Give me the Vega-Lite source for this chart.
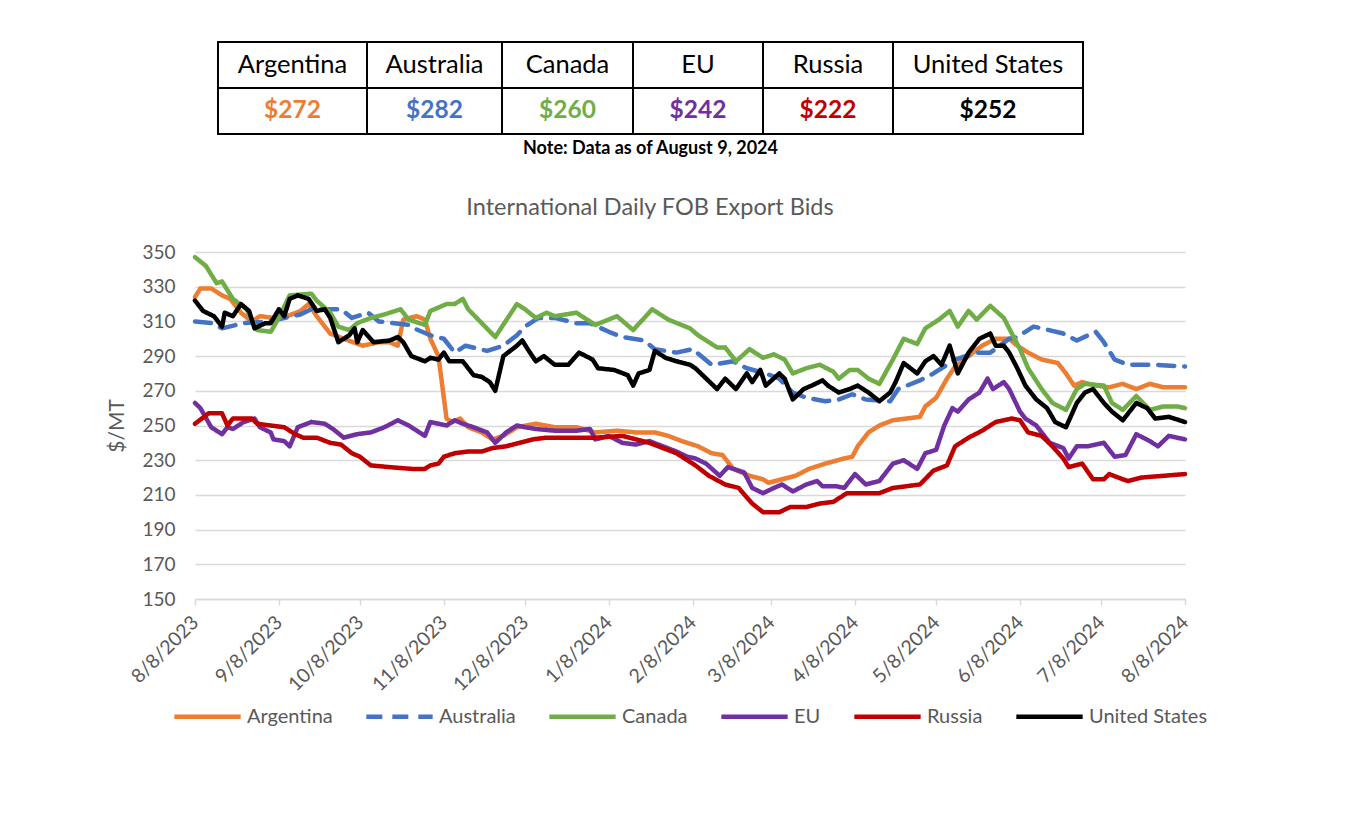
{
"$schema": "https://vega.github.io/schema/vega-lite/v6.json",
"background": "white",
"padding": {"left": 106, "top": 41, "right": 10, "bottom": 10},
"datasets": {
"table": [
{"country":"Argentina","row":"name","text":"Argentina"},{"country":"Argentina","row":"price","text":"$272"},
{"country":"Australia","row":"name","text":"Australia"},{"country":"Australia","row":"price","text":"$282"},
{"country":"Canada","row":"name","text":"Canada"},{"country":"Canada","row":"price","text":"$260"},
{"country":"EU","row":"name","text":"EU"},{"country":"EU","row":"price","text":"$242"},
{"country":"Russia","row":"name","text":"Russia"},{"country":"Russia","row":"price","text":"$222"},
{"country":"United States","row":"name","text":"United States"},{"country":"United States","row":"price","text":"$252"}
],
"lines": [
{"c":"Argentina","d":"2023-08-08","v":324},{"c":"Argentina","d":"2023-08-10","v":329},{"c":"Argentina","d":"2023-08-14","v":329},{"c":"Argentina","d":"2023-08-18","v":325},{"c":"Argentina","d":"2023-08-21","v":323},{"c":"Argentina","d":"2023-08-25","v":315},{"c":"Argentina","d":"2023-08-29","v":310},{"c":"Argentina","d":"2023-09-01","v":313},{"c":"Argentina","d":"2023-09-06","v":312},{"c":"Argentina","d":"2023-09-11","v":313},{"c":"Argentina","d":"2023-09-16","v":316},{"c":"Argentina","d":"2023-09-19","v":320},{"c":"Argentina","d":"2023-09-22","v":313},{"c":"Argentina","d":"2023-09-27","v":303},{"c":"Argentina","d":"2023-10-02","v":300},{"c":"Argentina","d":"2023-10-09","v":296},{"c":"Argentina","d":"2023-10-15","v":298},{"c":"Argentina","d":"2023-10-19","v":298},{"c":"Argentina","d":"2023-10-22","v":296},{"c":"Argentina","d":"2023-10-24","v":311},{"c":"Argentina","d":"2023-10-29","v":313},{"c":"Argentina","d":"2023-11-01","v":311},{"c":"Argentina","d":"2023-11-03","v":300},{"c":"Argentina","d":"2023-11-06","v":290},{"c":"Argentina","d":"2023-11-09","v":254},{"c":"Argentina","d":"2023-11-11","v":252},{"c":"Argentina","d":"2023-11-14","v":254},{"c":"Argentina","d":"2023-11-17","v":249},{"c":"Argentina","d":"2023-11-22","v":246},{"c":"Argentina","d":"2023-11-26","v":242},{"c":"Argentina","d":"2023-11-30","v":244},{"c":"Argentina","d":"2023-12-05","v":249},{"c":"Argentina","d":"2023-12-12","v":251},{"c":"Argentina","d":"2023-12-19","v":249},{"c":"Argentina","d":"2023-12-27","v":249},{"c":"Argentina","d":"2024-01-03","v":246},{"c":"Argentina","d":"2024-01-11","v":247},{"c":"Argentina","d":"2024-01-18","v":246},{"c":"Argentina","d":"2024-01-25","v":246},{"c":"Argentina","d":"2024-01-30","v":244},{"c":"Argentina","d":"2024-02-04","v":241},{"c":"Argentina","d":"2024-02-10","v":238},{"c":"Argentina","d":"2024-02-15","v":234},{"c":"Argentina","d":"2024-02-19","v":233},{"c":"Argentina","d":"2024-02-23","v":225},{"c":"Argentina","d":"2024-02-29","v":221},{"c":"Argentina","d":"2024-03-05","v":219},{"c":"Argentina","d":"2024-03-07","v":217},{"c":"Argentina","d":"2024-03-12","v":219},{"c":"Argentina","d":"2024-03-17","v":221},{"c":"Argentina","d":"2024-03-22","v":225},{"c":"Argentina","d":"2024-03-28","v":228},{"c":"Argentina","d":"2024-04-04","v":231},{"c":"Argentina","d":"2024-04-07","v":232},{"c":"Argentina","d":"2024-04-09","v":238},{"c":"Argentina","d":"2024-04-13","v":246},{"c":"Argentina","d":"2024-04-17","v":250},{"c":"Argentina","d":"2024-04-22","v":253},{"c":"Argentina","d":"2024-04-27","v":254},{"c":"Argentina","d":"2024-05-02","v":255},{"c":"Argentina","d":"2024-05-04","v":261},{"c":"Argentina","d":"2024-05-08","v":266},{"c":"Argentina","d":"2024-05-12","v":277},{"c":"Argentina","d":"2024-05-15","v":284},{"c":"Argentina","d":"2024-05-20","v":290},{"c":"Argentina","d":"2024-05-25","v":296},{"c":"Argentina","d":"2024-05-30","v":300},{"c":"Argentina","d":"2024-06-04","v":300},{"c":"Argentina","d":"2024-06-07","v":296},{"c":"Argentina","d":"2024-06-11","v":292},{"c":"Argentina","d":"2024-06-16","v":288},{"c":"Argentina","d":"2024-06-22","v":286},{"c":"Argentina","d":"2024-06-25","v":280},{"c":"Argentina","d":"2024-06-28","v":273},{"c":"Argentina","d":"2024-07-01","v":275},{"c":"Argentina","d":"2024-07-06","v":273},{"c":"Argentina","d":"2024-07-11","v":272},{"c":"Argentina","d":"2024-07-16","v":274},{"c":"Argentina","d":"2024-07-21","v":271},{"c":"Argentina","d":"2024-07-26","v":274},{"c":"Argentina","d":"2024-07-31","v":272},{"c":"Argentina","d":"2024-08-08","v":272},
{"c":"Australia","d":"2023-08-08","v":310},{"c":"Australia","d":"2023-08-14","v":309},{"c":"Australia","d":"2023-08-18","v":306},{"c":"Australia","d":"2023-08-26","v":309},{"c":"Australia","d":"2023-09-04","v":310},{"c":"Australia","d":"2023-09-10","v":312},{"c":"Australia","d":"2023-09-16","v":314},{"c":"Australia","d":"2023-09-20","v":317},{"c":"Australia","d":"2023-10-01","v":317},{"c":"Australia","d":"2023-10-05","v":312},{"c":"Australia","d":"2023-10-11","v":315},{"c":"Australia","d":"2023-10-15","v":310},{"c":"Australia","d":"2023-10-26","v":308},{"c":"Australia","d":"2023-10-28","v":306},{"c":"Australia","d":"2023-11-03","v":302},{"c":"Australia","d":"2023-11-08","v":300},{"c":"Australia","d":"2023-11-12","v":292},{"c":"Australia","d":"2023-11-16","v":296},{"c":"Australia","d":"2023-11-24","v":293},{"c":"Australia","d":"2023-11-30","v":296},{"c":"Australia","d":"2023-12-05","v":302},{"c":"Australia","d":"2023-12-08","v":307},{"c":"Australia","d":"2023-12-13","v":312},{"c":"Australia","d":"2023-12-19","v":312},{"c":"Australia","d":"2023-12-27","v":309},{"c":"Australia","d":"2024-01-01","v":309},{"c":"Australia","d":"2024-01-08","v":304},{"c":"Australia","d":"2024-01-13","v":301},{"c":"Australia","d":"2024-01-21","v":299},{"c":"Australia","d":"2024-01-25","v":294},{"c":"Australia","d":"2024-02-02","v":292},{"c":"Australia","d":"2024-02-08","v":294},{"c":"Australia","d":"2024-02-15","v":285},{"c":"Australia","d":"2024-02-23","v":287},{"c":"Australia","d":"2024-02-28","v":283},{"c":"Australia","d":"2024-03-06","v":280},{"c":"Australia","d":"2024-03-11","v":277},{"c":"Australia","d":"2024-03-16","v":269},{"c":"Australia","d":"2024-03-21","v":266},{"c":"Australia","d":"2024-03-28","v":264},{"c":"Australia","d":"2024-04-02","v":265},{"c":"Australia","d":"2024-04-07","v":268},{"c":"Australia","d":"2024-04-12","v":265},{"c":"Australia","d":"2024-04-21","v":264},{"c":"Australia","d":"2024-04-24","v":271},{"c":"Australia","d":"2024-05-02","v":276},{"c":"Australia","d":"2024-05-07","v":280},{"c":"Australia","d":"2024-05-15","v":288},{"c":"Australia","d":"2024-05-23","v":292},{"c":"Australia","d":"2024-05-28","v":292},{"c":"Australia","d":"2024-06-04","v":300},{"c":"Australia","d":"2024-06-07","v":301},{"c":"Australia","d":"2024-06-13","v":307},{"c":"Australia","d":"2024-06-16","v":306},{"c":"Australia","d":"2024-06-24","v":303},{"c":"Australia","d":"2024-06-29","v":299},{"c":"Australia","d":"2024-07-06","v":304},{"c":"Australia","d":"2024-07-09","v":298},{"c":"Australia","d":"2024-07-13","v":288},{"c":"Australia","d":"2024-07-18","v":285},{"c":"Australia","d":"2024-07-28","v":285},{"c":"Australia","d":"2024-08-08","v":284},
{"c":"Canada","d":"2023-08-08","v":347},{"c":"Canada","d":"2023-08-12","v":342},{"c":"Canada","d":"2023-08-16","v":332},{"c":"Canada","d":"2023-08-18","v":333},{"c":"Canada","d":"2023-08-22","v":323},{"c":"Canada","d":"2023-08-27","v":317},{"c":"Canada","d":"2023-08-31","v":305},{"c":"Canada","d":"2023-09-05","v":304},{"c":"Canada","d":"2023-09-08","v":312},{"c":"Canada","d":"2023-09-12","v":325},{"c":"Canada","d":"2023-09-20","v":326},{"c":"Canada","d":"2023-09-22","v":322},{"c":"Canada","d":"2023-09-27","v":315},{"c":"Canada","d":"2023-09-30","v":307},{"c":"Canada","d":"2023-10-04","v":305},{"c":"Canada","d":"2023-10-07","v":309},{"c":"Canada","d":"2023-10-12","v":312},{"c":"Canada","d":"2023-10-17","v":314},{"c":"Canada","d":"2023-10-23","v":317},{"c":"Canada","d":"2023-10-26","v":311},{"c":"Canada","d":"2023-11-01","v":308},{"c":"Canada","d":"2023-11-03","v":316},{"c":"Canada","d":"2023-11-06","v":318},{"c":"Canada","d":"2023-11-09","v":320},{"c":"Canada","d":"2023-11-12","v":320},{"c":"Canada","d":"2023-11-15","v":323},{"c":"Canada","d":"2023-11-17","v":317},{"c":"Canada","d":"2023-11-22","v":309},{"c":"Canada","d":"2023-11-27","v":301},{"c":"Canada","d":"2023-12-05","v":320},{"c":"Canada","d":"2023-12-08","v":317},{"c":"Canada","d":"2023-12-12","v":312},{"c":"Canada","d":"2023-12-16","v":315},{"c":"Canada","d":"2023-12-19","v":313},{"c":"Canada","d":"2023-12-27","v":315},{"c":"Canada","d":"2024-01-03","v":308},{"c":"Canada","d":"2024-01-11","v":313},{"c":"Canada","d":"2024-01-17","v":305},{"c":"Canada","d":"2024-01-24","v":317},{"c":"Canada","d":"2024-01-30","v":311},{"c":"Canada","d":"2024-02-07","v":306},{"c":"Canada","d":"2024-02-10","v":302},{"c":"Canada","d":"2024-02-17","v":295},{"c":"Canada","d":"2024-02-20","v":295},{"c":"Canada","d":"2024-02-24","v":287},{"c":"Canada","d":"2024-02-29","v":294},{"c":"Canada","d":"2024-03-05","v":289},{"c":"Canada","d":"2024-03-09","v":291},{"c":"Canada","d":"2024-03-13","v":288},{"c":"Canada","d":"2024-03-16","v":280},{"c":"Canada","d":"2024-03-21","v":283},{"c":"Canada","d":"2024-03-26","v":285},{"c":"Canada","d":"2024-03-31","v":281},{"c":"Canada","d":"2024-04-02","v":277},{"c":"Canada","d":"2024-04-06","v":282},{"c":"Canada","d":"2024-04-09","v":282},{"c":"Canada","d":"2024-04-13","v":277},{"c":"Canada","d":"2024-04-17","v":274},{"c":"Canada","d":"2024-04-22","v":288},{"c":"Canada","d":"2024-04-26","v":300},{"c":"Canada","d":"2024-05-01","v":297},{"c":"Canada","d":"2024-05-04","v":306},{"c":"Canada","d":"2024-05-09","v":311},{"c":"Canada","d":"2024-05-13","v":316},{"c":"Canada","d":"2024-05-16","v":307},{"c":"Canada","d":"2024-05-20","v":316},{"c":"Canada","d":"2024-05-23","v":311},{"c":"Canada","d":"2024-05-28","v":319},{"c":"Canada","d":"2024-06-02","v":312},{"c":"Canada","d":"2024-06-04","v":306},{"c":"Canada","d":"2024-06-08","v":294},{"c":"Canada","d":"2024-06-11","v":283},{"c":"Canada","d":"2024-06-16","v":271},{"c":"Canada","d":"2024-06-20","v":263},{"c":"Canada","d":"2024-06-25","v":259},{"c":"Canada","d":"2024-06-29","v":271},{"c":"Canada","d":"2024-07-02","v":274},{"c":"Canada","d":"2024-07-09","v":273},{"c":"Canada","d":"2024-07-12","v":263},{"c":"Canada","d":"2024-07-16","v":259},{"c":"Canada","d":"2024-07-21","v":267},{"c":"Canada","d":"2024-07-26","v":259},{"c":"Canada","d":"2024-07-31","v":261},{"c":"Canada","d":"2024-08-05","v":261},{"c":"Canada","d":"2024-08-08","v":260},
{"c":"EU","d":"2023-08-08","v":263},{"c":"EU","d":"2023-08-10","v":260},{"c":"EU","d":"2023-08-14","v":249},{"c":"EU","d":"2023-08-18","v":245},{"c":"EU","d":"2023-08-20","v":249},{"c":"EU","d":"2023-08-22","v":248},{"c":"EU","d":"2023-08-26","v":252},{"c":"EU","d":"2023-08-30","v":254},{"c":"EU","d":"2023-09-01","v":249},{"c":"EU","d":"2023-09-05","v":246},{"c":"EU","d":"2023-09-06","v":242},{"c":"EU","d":"2023-09-10","v":241},{"c":"EU","d":"2023-09-12","v":238},{"c":"EU","d":"2023-09-15","v":249},{"c":"EU","d":"2023-09-20","v":252},{"c":"EU","d":"2023-09-25","v":251},{"c":"EU","d":"2023-09-28","v":248},{"c":"EU","d":"2023-10-02","v":243},{"c":"EU","d":"2023-10-07","v":245},{"c":"EU","d":"2023-10-12","v":246},{"c":"EU","d":"2023-10-17","v":249},{"c":"EU","d":"2023-10-22","v":253},{"c":"EU","d":"2023-10-26","v":250},{"c":"EU","d":"2023-10-29","v":247},{"c":"EU","d":"2023-11-01","v":244},{"c":"EU","d":"2023-11-03","v":252},{"c":"EU","d":"2023-11-06","v":251},{"c":"EU","d":"2023-11-09","v":250},{"c":"EU","d":"2023-11-12","v":253},{"c":"EU","d":"2023-11-15","v":251},{"c":"EU","d":"2023-11-19","v":249},{"c":"EU","d":"2023-11-24","v":246},{"c":"EU","d":"2023-11-27","v":240},{"c":"EU","d":"2023-12-01","v":246},{"c":"EU","d":"2023-12-05","v":250},{"c":"EU","d":"2023-12-08","v":249},{"c":"EU","d":"2023-12-12","v":248},{"c":"EU","d":"2023-12-19","v":247},{"c":"EU","d":"2023-12-27","v":247},{"c":"EU","d":"2024-01-01","v":248},{"c":"EU","d":"2024-01-03","v":242},{"c":"EU","d":"2024-01-08","v":244},{"c":"EU","d":"2024-01-13","v":240},{"c":"EU","d":"2024-01-18","v":239},{"c":"EU","d":"2024-01-23","v":241},{"c":"EU","d":"2024-01-28","v":238},{"c":"EU","d":"2024-02-02","v":235},{"c":"EU","d":"2024-02-06","v":232},{"c":"EU","d":"2024-02-09","v":231},{"c":"EU","d":"2024-02-13","v":228},{"c":"EU","d":"2024-02-18","v":221},{"c":"EU","d":"2024-02-21","v":226},{"c":"EU","d":"2024-02-27","v":223},{"c":"EU","d":"2024-03-01","v":214},{"c":"EU","d":"2024-03-05","v":211},{"c":"EU","d":"2024-03-09","v":214},{"c":"EU","d":"2024-03-12","v":216},{"c":"EU","d":"2024-03-16","v":212},{"c":"EU","d":"2024-03-21","v":216},{"c":"EU","d":"2024-03-25","v":218},{"c":"EU","d":"2024-03-27","v":215},{"c":"EU","d":"2024-04-01","v":215},{"c":"EU","d":"2024-04-04","v":214},{"c":"EU","d":"2024-04-08","v":222},{"c":"EU","d":"2024-04-12","v":216},{"c":"EU","d":"2024-04-17","v":218},{"c":"EU","d":"2024-04-22","v":228},{"c":"EU","d":"2024-04-26","v":230},{"c":"EU","d":"2024-05-01","v":225},{"c":"EU","d":"2024-05-04","v":234},{"c":"EU","d":"2024-05-08","v":236},{"c":"EU","d":"2024-05-11","v":250},{"c":"EU","d":"2024-05-14","v":260},{"c":"EU","d":"2024-05-16","v":258},{"c":"EU","d":"2024-05-20","v":265},{"c":"EU","d":"2024-05-24","v":269},{"c":"EU","d":"2024-05-27","v":277},{"c":"EU","d":"2024-05-29","v":271},{"c":"EU","d":"2024-06-02","v":275},{"c":"EU","d":"2024-06-04","v":271},{"c":"EU","d":"2024-06-08","v":258},{"c":"EU","d":"2024-06-10","v":254},{"c":"EU","d":"2024-06-14","v":250},{"c":"EU","d":"2024-06-19","v":240},{"c":"EU","d":"2024-06-24","v":237},{"c":"EU","d":"2024-06-26","v":231},{"c":"EU","d":"2024-06-29","v":238},{"c":"EU","d":"2024-07-03","v":238},{"c":"EU","d":"2024-07-09","v":240},{"c":"EU","d":"2024-07-13","v":232},{"c":"EU","d":"2024-07-17","v":233},{"c":"EU","d":"2024-07-21","v":245},{"c":"EU","d":"2024-07-26","v":241},{"c":"EU","d":"2024-07-29","v":238},{"c":"EU","d":"2024-08-02","v":244},{"c":"EU","d":"2024-08-08","v":242},
{"c":"Russia","d":"2023-08-08","v":251},{"c":"Russia","d":"2023-08-13","v":257},{"c":"Russia","d":"2023-08-18","v":257},{"c":"Russia","d":"2023-08-20","v":250},{"c":"Russia","d":"2023-08-22","v":254},{"c":"Russia","d":"2023-08-29","v":254},{"c":"Russia","d":"2023-08-31","v":251},{"c":"Russia","d":"2023-09-05","v":250},{"c":"Russia","d":"2023-09-10","v":249},{"c":"Russia","d":"2023-09-14","v":245},{"c":"Russia","d":"2023-09-17","v":243},{"c":"Russia","d":"2023-09-22","v":243},{"c":"Russia","d":"2023-09-27","v":240},{"c":"Russia","d":"2023-10-01","v":239},{"c":"Russia","d":"2023-10-05","v":234},{"c":"Russia","d":"2023-10-08","v":232},{"c":"Russia","d":"2023-10-12","v":227},{"c":"Russia","d":"2023-10-19","v":226},{"c":"Russia","d":"2023-10-27","v":225},{"c":"Russia","d":"2023-11-01","v":225},{"c":"Russia","d":"2023-11-03","v":227},{"c":"Russia","d":"2023-11-06","v":228},{"c":"Russia","d":"2023-11-08","v":232},{"c":"Russia","d":"2023-11-12","v":234},{"c":"Russia","d":"2023-11-17","v":235},{"c":"Russia","d":"2023-11-22","v":235},{"c":"Russia","d":"2023-11-26","v":237},{"c":"Russia","d":"2023-12-01","v":238},{"c":"Russia","d":"2023-12-06","v":240},{"c":"Russia","d":"2023-12-11","v":242},{"c":"Russia","d":"2023-12-16","v":243},{"c":"Russia","d":"2023-12-24","v":243},{"c":"Russia","d":"2024-01-03","v":243},{"c":"Russia","d":"2024-01-13","v":244},{"c":"Russia","d":"2024-01-18","v":242},{"c":"Russia","d":"2024-01-23","v":240},{"c":"Russia","d":"2024-01-28","v":237},{"c":"Russia","d":"2024-02-02","v":234},{"c":"Russia","d":"2024-02-06","v":230},{"c":"Russia","d":"2024-02-09","v":227},{"c":"Russia","d":"2024-02-14","v":221},{"c":"Russia","d":"2024-02-20","v":216},{"c":"Russia","d":"2024-02-25","v":214},{"c":"Russia","d":"2024-03-01","v":205},{"c":"Russia","d":"2024-03-05","v":200},{"c":"Russia","d":"2024-03-11","v":200},{"c":"Russia","d":"2024-03-15","v":203},{"c":"Russia","d":"2024-03-21","v":203},{"c":"Russia","d":"2024-03-26","v":205},{"c":"Russia","d":"2024-03-31","v":206},{"c":"Russia","d":"2024-04-05","v":211},{"c":"Russia","d":"2024-04-12","v":211},{"c":"Russia","d":"2024-04-17","v":211},{"c":"Russia","d":"2024-04-22","v":214},{"c":"Russia","d":"2024-05-02","v":216},{"c":"Russia","d":"2024-05-07","v":224},{"c":"Russia","d":"2024-05-12","v":227},{"c":"Russia","d":"2024-05-15","v":238},{"c":"Russia","d":"2024-05-20","v":243},{"c":"Russia","d":"2024-05-25","v":247},{"c":"Russia","d":"2024-05-30","v":252},{"c":"Russia","d":"2024-06-05","v":254},{"c":"Russia","d":"2024-06-08","v":253},{"c":"Russia","d":"2024-06-11","v":246},{"c":"Russia","d":"2024-06-16","v":244},{"c":"Russia","d":"2024-06-20","v":238},{"c":"Russia","d":"2024-06-24","v":231},{"c":"Russia","d":"2024-06-26","v":226},{"c":"Russia","d":"2024-07-01","v":228},{"c":"Russia","d":"2024-07-05","v":219},{"c":"Russia","d":"2024-07-09","v":219},{"c":"Russia","d":"2024-07-11","v":222},{"c":"Russia","d":"2024-07-16","v":219},{"c":"Russia","d":"2024-07-18","v":218},{"c":"Russia","d":"2024-07-23","v":220},{"c":"Russia","d":"2024-07-31","v":221},{"c":"Russia","d":"2024-08-08","v":222},
{"c":"United States","d":"2023-08-08","v":322},{"c":"United States","d":"2023-08-11","v":316},{"c":"United States","d":"2023-08-15","v":313},{"c":"United States","d":"2023-08-18","v":307},{"c":"United States","d":"2023-08-19","v":315},{"c":"United States","d":"2023-08-22","v":313},{"c":"United States","d":"2023-08-25","v":320},{"c":"United States","d":"2023-08-28","v":316},{"c":"United States","d":"2023-08-30","v":306},{"c":"United States","d":"2023-09-03","v":309},{"c":"United States","d":"2023-09-05","v":309},{"c":"United States","d":"2023-09-08","v":317},{"c":"United States","d":"2023-09-10","v":313},{"c":"United States","d":"2023-09-12","v":323},{"c":"United States","d":"2023-09-15","v":325},{"c":"United States","d":"2023-09-19","v":323},{"c":"United States","d":"2023-09-22","v":316},{"c":"United States","d":"2023-09-25","v":317},{"c":"United States","d":"2023-09-27","v":312},{"c":"United States","d":"2023-09-30","v":298},{"c":"United States","d":"2023-10-04","v":302},{"c":"United States","d":"2023-10-06","v":306},{"c":"United States","d":"2023-10-07","v":298},{"c":"United States","d":"2023-10-09","v":305},{"c":"United States","d":"2023-10-13","v":298},{"c":"United States","d":"2023-10-19","v":299},{"c":"United States","d":"2023-10-22","v":301},{"c":"United States","d":"2023-10-24","v":298},{"c":"United States","d":"2023-10-27","v":290},{"c":"United States","d":"2023-11-01","v":287},{"c":"United States","d":"2023-11-03","v":289},{"c":"United States","d":"2023-11-06","v":288},{"c":"United States","d":"2023-11-08","v":292},{"c":"United States","d":"2023-11-10","v":287},{"c":"United States","d":"2023-11-15","v":287},{"c":"United States","d":"2023-11-19","v":279},{"c":"United States","d":"2023-11-22","v":278},{"c":"United States","d":"2023-11-25","v":275},{"c":"United States","d":"2023-11-27","v":270},{"c":"United States","d":"2023-11-30","v":290},{"c":"United States","d":"2023-12-05","v":296},{"c":"United States","d":"2023-12-07","v":299},{"c":"United States","d":"2023-12-09","v":294},{"c":"United States","d":"2023-12-12","v":287},{"c":"United States","d":"2023-12-15","v":290},{"c":"United States","d":"2023-12-19","v":285},{"c":"United States","d":"2023-12-24","v":285},{"c":"United States","d":"2023-12-28","v":292},{"c":"United States","d":"2024-01-02","v":288},{"c":"United States","d":"2024-01-04","v":283},{"c":"United States","d":"2024-01-10","v":282},{"c":"United States","d":"2024-01-15","v":279},{"c":"United States","d":"2024-01-17","v":273},{"c":"United States","d":"2024-01-19","v":280},{"c":"United States","d":"2024-01-23","v":282},{"c":"United States","d":"2024-01-25","v":293},{"c":"United States","d":"2024-01-29","v":289},{"c":"United States","d":"2024-02-02","v":287},{"c":"United States","d":"2024-02-07","v":285},{"c":"United States","d":"2024-02-09","v":283},{"c":"United States","d":"2024-02-13","v":277},{"c":"United States","d":"2024-02-17","v":271},{"c":"United States","d":"2024-02-20","v":277},{"c":"United States","d":"2024-02-24","v":271},{"c":"United States","d":"2024-02-28","v":280},{"c":"United States","d":"2024-03-01","v":275},{"c":"United States","d":"2024-03-04","v":282},{"c":"United States","d":"2024-03-06","v":273},{"c":"United States","d":"2024-03-11","v":280},{"c":"United States","d":"2024-03-13","v":277},{"c":"United States","d":"2024-03-16","v":265},{"c":"United States","d":"2024-03-20","v":271},{"c":"United States","d":"2024-03-23","v":273},{"c":"United States","d":"2024-03-27","v":276},{"c":"United States","d":"2024-03-29","v":273},{"c":"United States","d":"2024-04-02","v":269},{"c":"United States","d":"2024-04-06","v":271},{"c":"United States","d":"2024-04-09","v":273},{"c":"United States","d":"2024-04-13","v":269},{"c":"United States","d":"2024-04-17","v":264},{"c":"United States","d":"2024-04-21","v":269},{"c":"United States","d":"2024-04-23","v":275},{"c":"United States","d":"2024-04-26","v":286},{"c":"United States","d":"2024-05-01","v":280},{"c":"United States","d":"2024-05-04","v":287},{"c":"United States","d":"2024-05-07","v":290},{"c":"United States","d":"2024-05-10","v":285},{"c":"United States","d":"2024-05-13","v":296},{"c":"United States","d":"2024-05-16","v":280},{"c":"United States","d":"2024-05-20","v":292},{"c":"United States","d":"2024-05-24","v":300},{"c":"United States","d":"2024-05-28","v":303},{"c":"United States","d":"2024-05-30","v":296},{"c":"United States","d":"2024-06-02","v":296},{"c":"United States","d":"2024-06-04","v":292},{"c":"United States","d":"2024-06-07","v":283},{"c":"United States","d":"2024-06-10","v":273},{"c":"United States","d":"2024-06-14","v":265},{"c":"United States","d":"2024-06-18","v":260},{"c":"United States","d":"2024-06-21","v":252},{"c":"United States","d":"2024-06-25","v":249},{"c":"United States","d":"2024-06-29","v":263},{"c":"United States","d":"2024-07-02","v":269},{"c":"United States","d":"2024-07-05","v":271},{"c":"United States","d":"2024-07-09","v":263},{"c":"United States","d":"2024-07-12","v":258},{"c":"United States","d":"2024-07-16","v":253},{"c":"United States","d":"2024-07-21","v":263},{"c":"United States","d":"2024-07-25","v":260},{"c":"United States","d":"2024-07-28","v":254},{"c":"United States","d":"2024-08-02","v":255},{"c":"United States","d":"2024-08-08","v":252}
]
},
"vconcat": [
{
"hconcat": [
{"width": 23, "height": 92, "data": {"values": []}, "mark": {"type": "text", "text": ""}},
{"width": 149, "height": 92, "data": {"name": "table"}, "transform": [{"filter": "datum.country === 'Argentina'"}],
 "encoding": {"y": {"field": "row", "type": "nominal", "scale": {"domain": ["name", "price"], "paddingInner": 0, "paddingOuter": 0}, "axis": null}},
 "layer": [
  {"mark": {"type": "rect", "fill": "white", "stroke": "black", "strokeWidth": 2}},
  {"transform": [{"filter": "datum.row === 'name'"}], "mark": {"type": "text", "fontSize": 25.5, "font": "Lato", "color": "black"}, "encoding": {"text": {"field": "text"}}},
  {"transform": [{"filter": "datum.row === 'price'"}], "mark": {"type": "text", "fontSize": 24.5, "font": "Lato", "fontWeight": "bold"}, "encoding": {"text": {"field": "text"}, "color": {"field": "country", "type": "nominal", "scale": {"domain": ["Argentina", "Australia", "Canada", "EU", "Russia", "United States"], "range": ["#ED7D31", "#4472C4", "#70AD47", "#7030A0", "#C00000", "#000000"]}, "legend": null}}}
 ]},
{"width": 135, "height": 92, "data": {"name": "table"}, "transform": [{"filter": "datum.country === 'Australia'"}],
 "encoding": {"y": {"field": "row", "type": "nominal", "scale": {"domain": ["name", "price"], "paddingInner": 0, "paddingOuter": 0}, "axis": null}},
 "layer": [
  {"mark": {"type": "rect", "fill": "white", "stroke": "black", "strokeWidth": 2}},
  {"transform": [{"filter": "datum.row === 'name'"}], "mark": {"type": "text", "fontSize": 25.5, "font": "Lato", "color": "black"}, "encoding": {"text": {"field": "text"}}},
  {"transform": [{"filter": "datum.row === 'price'"}], "mark": {"type": "text", "fontSize": 24.5, "font": "Lato", "fontWeight": "bold"}, "encoding": {"text": {"field": "text"}, "color": {"field": "country", "type": "nominal", "scale": {"domain": ["Argentina", "Australia", "Canada", "EU", "Russia", "United States"], "range": ["#ED7D31", "#4472C4", "#70AD47", "#7030A0", "#C00000", "#000000"]}, "legend": null}}}
 ]},
{"width": 131, "height": 92, "data": {"name": "table"}, "transform": [{"filter": "datum.country === 'Canada'"}],
 "encoding": {"y": {"field": "row", "type": "nominal", "scale": {"domain": ["name", "price"], "paddingInner": 0, "paddingOuter": 0}, "axis": null}},
 "layer": [
  {"mark": {"type": "rect", "fill": "white", "stroke": "black", "strokeWidth": 2}},
  {"transform": [{"filter": "datum.row === 'name'"}], "mark": {"type": "text", "fontSize": 25.5, "font": "Lato", "color": "black"}, "encoding": {"text": {"field": "text"}}},
  {"transform": [{"filter": "datum.row === 'price'"}], "mark": {"type": "text", "fontSize": 24.5, "font": "Lato", "fontWeight": "bold"}, "encoding": {"text": {"field": "text"}, "color": {"field": "country", "type": "nominal", "scale": {"domain": ["Argentina", "Australia", "Canada", "EU", "Russia", "United States"], "range": ["#ED7D31", "#4472C4", "#70AD47", "#7030A0", "#C00000", "#000000"]}, "legend": null}}}
 ]},
{"width": 130, "height": 92, "data": {"name": "table"}, "transform": [{"filter": "datum.country === 'EU'"}],
 "encoding": {"y": {"field": "row", "type": "nominal", "scale": {"domain": ["name", "price"], "paddingInner": 0, "paddingOuter": 0}, "axis": null}},
 "layer": [
  {"mark": {"type": "rect", "fill": "white", "stroke": "black", "strokeWidth": 2}},
  {"transform": [{"filter": "datum.row === 'name'"}], "mark": {"type": "text", "fontSize": 25.5, "font": "Lato", "color": "black"}, "encoding": {"text": {"field": "text"}}},
  {"transform": [{"filter": "datum.row === 'price'"}], "mark": {"type": "text", "fontSize": 24.5, "font": "Lato", "fontWeight": "bold"}, "encoding": {"text": {"field": "text"}, "color": {"field": "country", "type": "nominal", "scale": {"domain": ["Argentina", "Australia", "Canada", "EU", "Russia", "United States"], "range": ["#ED7D31", "#4472C4", "#70AD47", "#7030A0", "#C00000", "#000000"]}, "legend": null}}}
 ]},
{"width": 130, "height": 92, "data": {"name": "table"}, "transform": [{"filter": "datum.country === 'Russia'"}],
 "encoding": {"y": {"field": "row", "type": "nominal", "scale": {"domain": ["name", "price"], "paddingInner": 0, "paddingOuter": 0}, "axis": null}},
 "layer": [
  {"mark": {"type": "rect", "fill": "white", "stroke": "black", "strokeWidth": 2}},
  {"transform": [{"filter": "datum.row === 'name'"}], "mark": {"type": "text", "fontSize": 25.5, "font": "Lato", "color": "black"}, "encoding": {"text": {"field": "text"}}},
  {"transform": [{"filter": "datum.row === 'price'"}], "mark": {"type": "text", "fontSize": 24.5, "font": "Lato", "fontWeight": "bold"}, "encoding": {"text": {"field": "text"}, "color": {"field": "country", "type": "nominal", "scale": {"domain": ["Argentina", "Australia", "Canada", "EU", "Russia", "United States"], "range": ["#ED7D31", "#4472C4", "#70AD47", "#7030A0", "#C00000", "#000000"]}, "legend": null}}}
 ]},
{"width": 190, "height": 92, "data": {"name": "table"}, "transform": [{"filter": "datum.country === 'United States'"}],
 "encoding": {"y": {"field": "row", "type": "nominal", "scale": {"domain": ["name", "price"], "paddingInner": 0, "paddingOuter": 0}, "axis": null}},
 "layer": [
  {"mark": {"type": "rect", "fill": "white", "stroke": "black", "strokeWidth": 2}},
  {"transform": [{"filter": "datum.row === 'name'"}], "mark": {"type": "text", "fontSize": 25.5, "font": "Lato", "color": "black"}, "encoding": {"text": {"field": "text"}}},
  {"transform": [{"filter": "datum.row === 'price'"}], "mark": {"type": "text", "fontSize": 24.5, "font": "Lato", "fontWeight": "bold"}, "encoding": {"text": {"field": "text"}, "color": {"field": "country", "type": "nominal", "scale": {"domain": ["Argentina", "Australia", "Canada", "EU", "Russia", "United States"], "range": ["#ED7D31", "#4472C4", "#70AD47", "#7030A0", "#C00000", "#000000"]}, "legend": null}}}
 ]}
],
"spacing": 0,
"bounds": "flush",
"title": {"text": "Note: Data as of August 9, 2024", "orient": "bottom", "anchor": "middle", "fontSize": 18, "fontWeight": "bold", "color": "black", "font": "Lato", "offset": 5, "dx": 11}
},
{
"width": 990, "height": 347,
"data": {"name": "lines"},
"title": {"text": "International Daily FOB Export Bids", "anchor": "middle", "fontSize": 23.5, "fontWeight": "normal", "color": "#595959", "font": "Lato", "offset": 24, "dx": -40},
"mark": {"type": "line", "strokeWidth": 4.5, "strokeCap": "round", "strokeJoin": "round"},
"encoding": {
 "x": {"field": "d", "type": "temporal",
  "scale": {"type": "utc", "domain": [{"year": 2023, "month": 8, "date": 8, "utc": true}, {"year": 2024, "month": 8, "date": 8, "utc": true}]},
  "axis": {"title": null, "format": "%-m/%-d/%Y", "values": [
   {"year": 2023, "month": 8, "date": 8, "utc": true}, {"year": 2023, "month": 9, "date": 8, "utc": true}, {"year": 2023, "month": 10, "date": 8, "utc": true}, {"year": 2023, "month": 11, "date": 8, "utc": true}, {"year": 2023, "month": 12, "date": 8, "utc": true}, {"year": 2024, "month": 1, "date": 8, "utc": true}, {"year": 2024, "month": 2, "date": 8, "utc": true}, {"year": 2024, "month": 3, "date": 8, "utc": true}, {"year": 2024, "month": 4, "date": 8, "utc": true}, {"year": 2024, "month": 5, "date": 8, "utc": true}, {"year": 2024, "month": 6, "date": 8, "utc": true}, {"year": 2024, "month": 7, "date": 8, "utc": true}, {"year": 2024, "month": 8, "date": 8, "utc": true}],
   "labelAngle": -45, "labelAlign": "right", "labelBaseline": "middle", "labelFontSize": 19.5, "labelPadding": 14, "labelOverlap": false, "labelBound": false, "labelFlush": false,
   "tickSize": 6, "tickColor": "#d9d9d9", "tickWidth": 1.5, "domainColor": "#d9d9d9", "domainWidth": 1.5, "grid": false}},
 "y": {"field": "v", "type": "quantitative", "scale": {"domain": [150, 350]},
  "axis": {"title": "$/MT", "values": [150, 170, 190, 210, 230, 250, 270, 290, 310, 330, 350], "titleFontSize": 21, "titleFontWeight": "normal", "titlePadding": 14, "labelFontSize": 19, "labelPadding": 20, "ticks": false, "domain": false, "grid": true, "gridColor": "#d9d9d9", "gridWidth": 1.5}},
 "color": {"field": "c", "type": "nominal", "scale": {"domain": ["Argentina", "Australia", "Canada", "EU", "Russia", "United States"], "range": ["#ED7D31", "#4472C4", "#70AD47", "#7030A0", "#C00000", "#000000"]}, "legend": {"title": null}},
 "strokeDash": {"field": "c", "type": "nominal", "scale": {"domain": ["Argentina", "Australia", "Canada", "EU", "Russia", "United States"], "range": [[1, 0], [16, 10], [1, 0], [1, 0], [1, 0], [1, 0]]}, "legend": {"title": null}}
}
}
],
"spacing": 210,
"bounds": "flush",
"resolve": {"scale": {"color": "independent", "strokeDash": "independent"}, "legend": {"color": "independent", "strokeDash": "independent"}},
"config": {
 "font": "Lato",
 "view": {"stroke": null},
 "axis": {"labelFont": "Lato", "titleFont": "Lato", "labelColor": "#595959", "titleColor": "#595959"},
 "legend": {"orient": "bottom", "direction": "horizontal", "symbolType": "stroke", "symbolSize": 4400, "symbolStrokeWidth": 4.5, "labelFontSize": 20, "labelColor": "#595959", "labelFont": "Lato", "columnPadding": 24, "labelOffset": 4, "offset": -14, "layout": {"bottom": {"anchor": "middle"}}}
}
}
